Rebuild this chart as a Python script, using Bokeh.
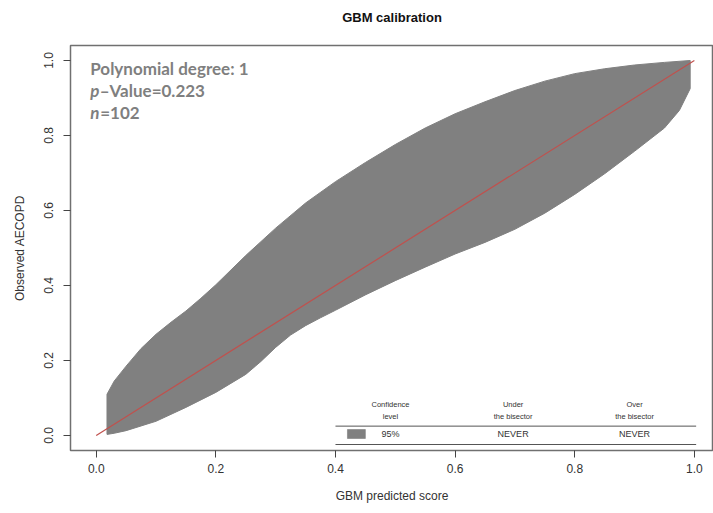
from bokeh.plotting import figure
from bokeh.embed import file_html
from bokeh.resources import INLINE
from bokeh.models import Range1d, FixedTicker, PrintfTickFormatter, LinearAxis
from bokeh.core.properties import value

# ---- data ----
band_x_upper = [0.018, 0.03, 0.05, 0.075, 0.1, 0.125, 0.15, 0.175, 0.2, 0.25, 0.3, 0.35, 0.4, 0.45,
                0.5, 0.55, 0.6, 0.65, 0.7, 0.75, 0.8, 0.85, 0.9, 0.95, 0.993]
band_upper = [0.11, 0.145, 0.185, 0.232, 0.27, 0.302, 0.332, 0.366, 0.402, 0.48, 0.553, 0.62, 0.677, 0.728,
              0.776, 0.82, 0.858, 0.89, 0.92, 0.945, 0.965, 0.978, 0.988, 0.995, 1.0]
band_x_lower = [0.018, 0.03, 0.05, 0.1, 0.15, 0.2, 0.25, 0.275, 0.3, 0.325, 0.35, 0.375, 0.4, 0.45,
                0.5, 0.55, 0.6, 0.65, 0.7, 0.75, 0.8, 0.85, 0.9, 0.95, 0.975, 0.993]
band_lower = [0.003, 0.006, 0.013, 0.038, 0.075, 0.115, 0.163, 0.197, 0.235, 0.268, 0.293, 0.314, 0.334, 0.375,
              0.413, 0.449, 0.484, 0.515, 0.55, 0.593, 0.643, 0.698, 0.758, 0.82, 0.867, 0.925]
bisector_x = [0.0, 1.0]
bisector_y = [0.0, 1.0]

ticks = [0.0, 0.2, 0.4, 0.6, 0.8, 1.0]

title_text = "GBM calibration"
x_label = "GBM predicted score"
y_label = "Observed AECOPD"
info_degree = "Polynomial degree: 1"
info_p = ("p", "\u2013Value=0.223")
info_n = ("n", "=102")

table_headers = ["Confidence\nlevel", "Under\nthe bisector", "Over\nthe bisector"]
table_row = ["95%", "NEVER", "NEVER"]

# ---- figure ----
p = figure(width=713, height=513, output_backend="svg", toolbar_location=None,
           x_range=Range1d(-0.043, 1.032), y_range=Range1d(-0.04, 1.04),
           min_border_left=70, min_border_right=0, min_border_top=45, min_border_bottom=63)

bottom_axis = p.below[0]
left_axis = p.left[0]

p.grid.visible = False
p.outline_line_color = "#707070"
p.outline_line_width = 1.5
p.background_fill_color = "white"
p.border_fill_color = "white"

for ax in (bottom_axis, left_axis):
    ax.ticker = FixedTicker(ticks=ticks)
    ax.formatter = PrintfTickFormatter(format="%.1f")
    ax.axis_line_color = None
    ax.major_tick_line_color = "#444444"
    ax.major_tick_out = 7
    ax.major_tick_in = 0
    ax.minor_tick_line_color = None
    ax.major_label_text_font = "Liberation Sans"
    ax.major_label_text_font_size = "12px"
    ax.major_label_text_color = "#333333"
    ax.axis_label_text_font = "Liberation Sans"
    ax.axis_label_text_font_size = "12px"
    ax.axis_label_text_font_style = "normal"
    ax.axis_label_text_color = "#333333"

bottom_axis.axis_label = x_label
left_axis.axis_label = y_label
bottom_axis.major_label_standoff = 6
bottom_axis.axis_label_standoff = 13
left_axis.major_label_orientation = "vertical"
left_axis.major_label_standoff = 11
left_axis.axis_label_standoff = 14

# title drawn as the label of an empty axis above the frame
title_axis = LinearAxis(ticker=FixedTicker(ticks=[]), axis_line_color=None,
                        major_tick_line_color=None, minor_tick_line_color=None,
                        major_label_text_font_size="0px", major_tick_out=0, major_tick_in=0,
                        major_label_standoff=0,
                        axis_label=title_text, axis_label_standoff=21,
                        axis_label_text_font="Liberation Sans", axis_label_text_font_size="13px",
                        axis_label_text_font_style="bold", axis_label_text_color="#111111")
p.add_layout(title_axis, "above")

# confidence band
poly_x = band_x_upper + band_x_lower[::-1]
poly_y = band_upper + band_lower[::-1]
p.patch(poly_x, poly_y, fill_color="#808080", line_color="#808080", line_width=1)

# bisector
p.line(bisector_x, bisector_y, line_color="#c0504d", line_width=1.2)

# info text
info_font = value("Lato")
p.text(x=[-0.01], y=[0.979], text=[info_degree], text_font=info_font, text_font_size="17px",
       text_font_style="bold", text_color="#7f7f7f", text_baseline="middle")
p.text(x=[-0.01], y=[0.92], text=[info_p[0]], text_font=info_font, text_font_size="17px",
       text_font_style="bold italic", text_color="#7f7f7f", text_baseline="middle")
p.text(x=[-0.01], y=[0.92], text=[info_p[1]], text_font=info_font, text_font_size="17px",
       text_font_style="bold", text_color="#7f7f7f", text_baseline="middle", x_offset=9.5)
p.text(x=[-0.01], y=[0.861], text=[info_n[0]], text_font=info_font, text_font_size="17px",
       text_font_style="bold italic", text_color="#7f7f7f", text_baseline="middle")
p.text(x=[-0.01], y=[0.861], text=[info_n[1]], text_font=info_font, text_font_size="17px",
       text_font_style="bold", text_color="#7f7f7f", text_baseline="middle", x_offset=10)

# table
col_x = [0.492, 0.697, 0.900]
tab_font = value("Liberation Sans")
p.text(x=col_x, y=[0.066] * 3, text=table_headers, text_font=tab_font, text_font_size="7.5px",
       text_color="#333333", text_align="center", text_baseline="middle", text_line_height=1.3)
p.segment(x0=[0.40, 0.40], y0=[0.025, -0.024], x1=[1.003, 1.003], y1=[0.025, -0.024],
          line_color="#555555", line_width=1)
p.quad(left=[0.42], right=[0.45], bottom=[-0.008], top=[0.016], fill_color="#808080",
       line_color="#707070", line_width=0.5)
p.text(x=col_x, y=[0.004] * 3, text=table_row, text_font=tab_font, text_font_size="9px",
       text_color="#333333", text_align="center", text_baseline="middle")

open("out.html", "w").write(file_html(p, INLINE))
